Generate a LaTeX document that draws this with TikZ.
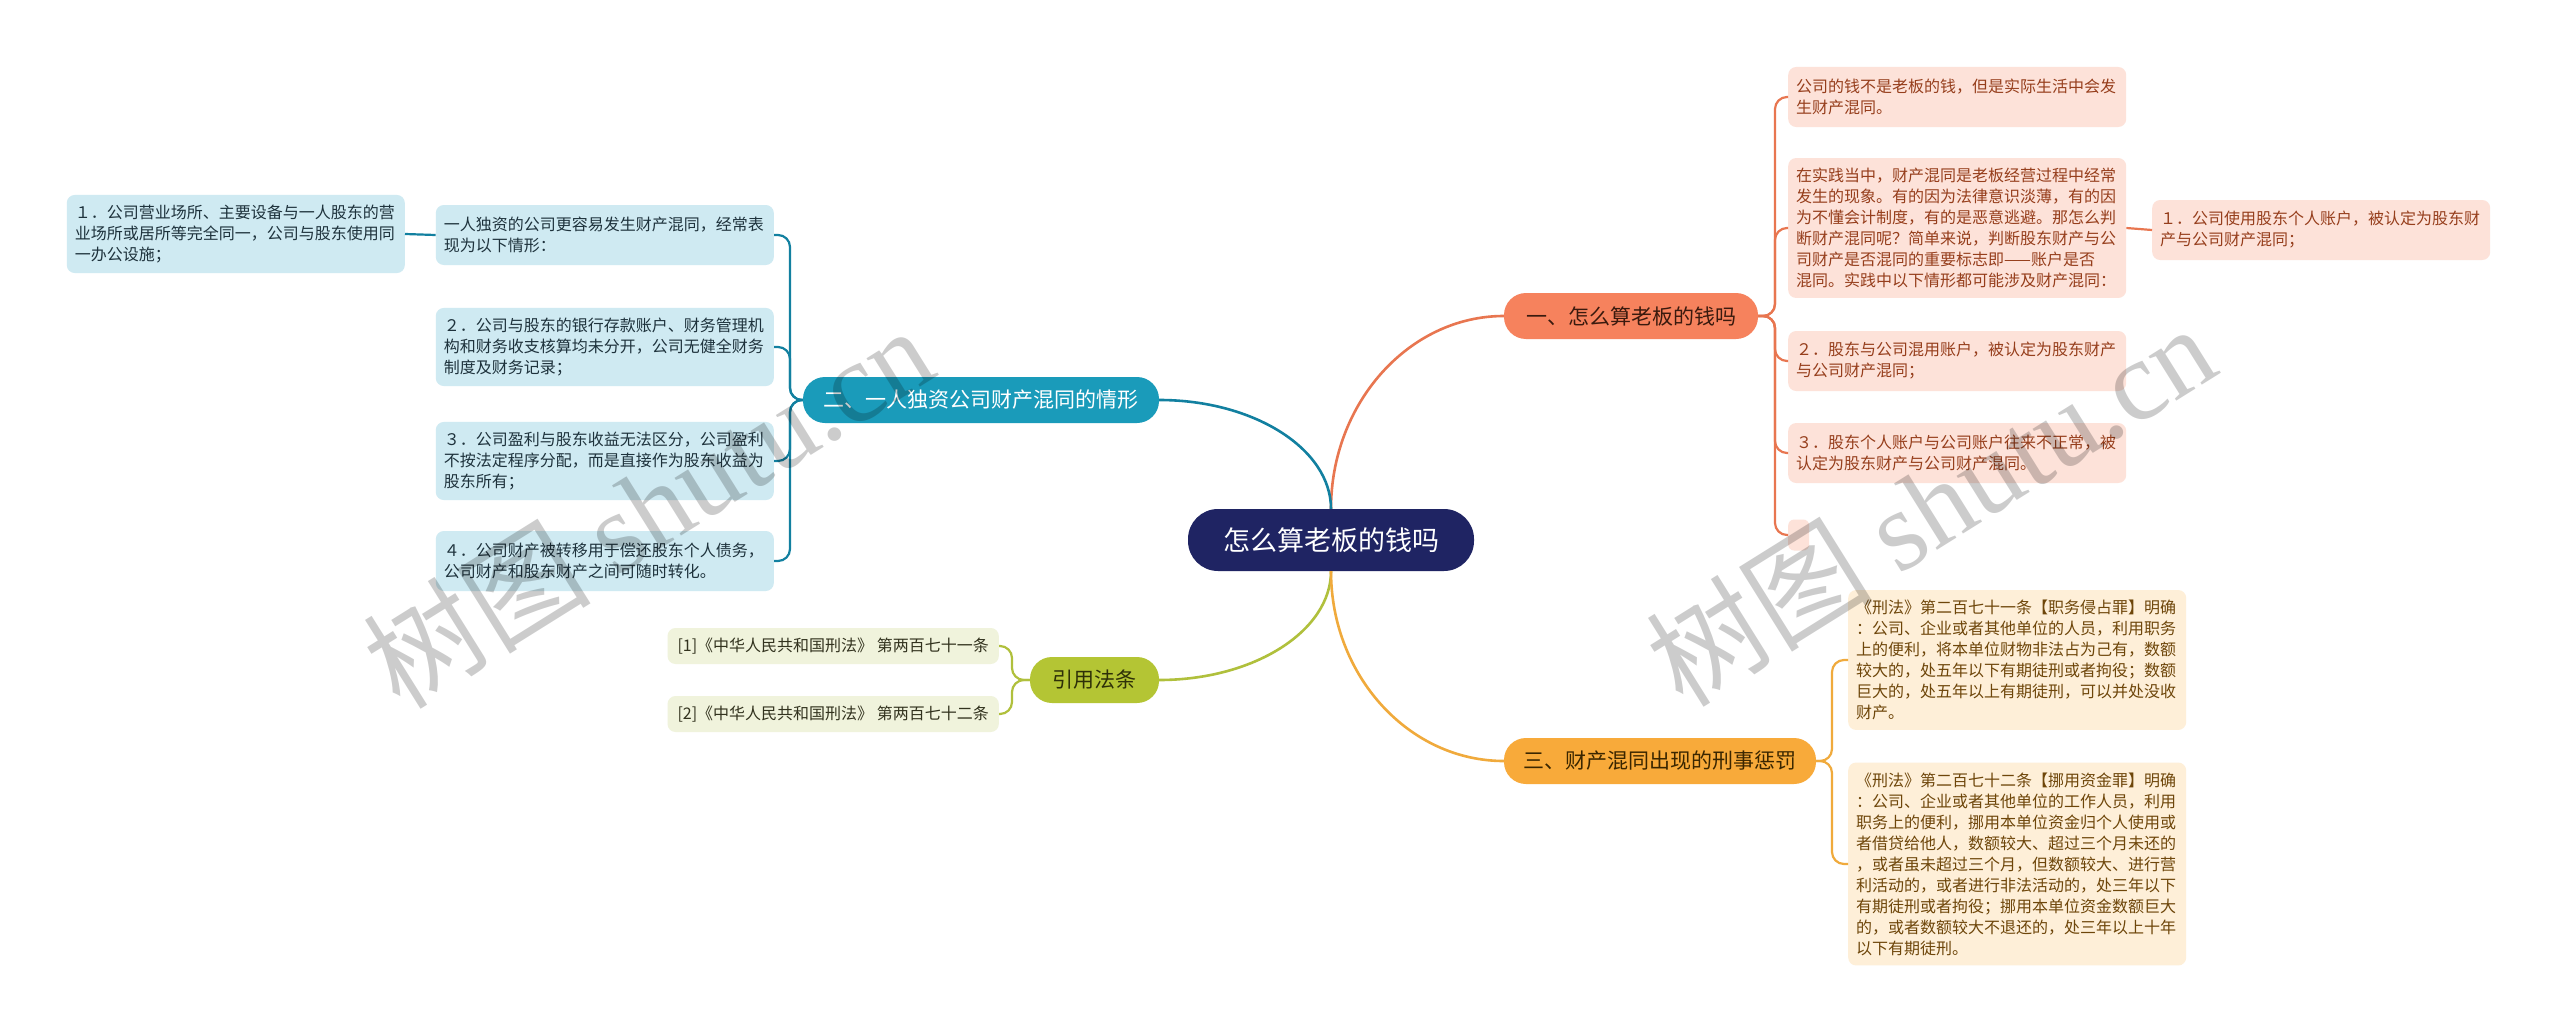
\documentclass[tikz,border=0pt]{standalone}
\usepackage{fontspec}
\setmainfont{Noto Sans CJK SC}
\newfontfamily\wmserif{Liberation Serif}
\newfontfamily\wmcjk{Noto Sans CJK SC}
\definecolor{rootfill}{RGB}{31,36,99}
\definecolor{bAfill}{RGB}{246,130,93}
\definecolor{bAtext}{RGB}{58,26,14}
\definecolor{bBfill}{RGB}{26,155,186}
\definecolor{bCfill}{RGB}{248,170,58}
\definecolor{bCtext}{RGB}{58,38,0}
\definecolor{bDfill}{RGB}{180,197,52}
\definecolor{bDtext}{RGB}{46,48,8}
\definecolor{pinkfill}{RGB}{253,226,217}
\definecolor{pinktext}{RGB}{150,62,28}
\definecolor{bluefill}{RGB}{207,234,242}
\definecolor{bluetext}{RGB}{30,50,60}
\definecolor{yelfill}{RGB}{254,239,216}
\definecolor{yeltext}{RGB}{110,70,10}
\definecolor{grnfill}{RGB}{240,243,220}
\definecolor{grntext}{RGB}{50,50,30}
\definecolor{orline}{RGB}{232,118,80}
\definecolor{tlline}{RGB}{18,128,160}
\definecolor{ylline}{RGB}{240,170,60}
\definecolor{gnline}{RGB}{176,192,60}
\tikzset{
  kid/.style={rounded corners=8pt, inner xsep=8pt, inner ysep=10pt, align=left,
    text width=322pt, minimum height=60pt, font=\fontsize{16}{21}\selectfont},
  pinkkid/.style={kid, fill=pinkfill, text=pinktext},
  bluekid/.style={kid, fill=bluefill, text=bluetext},
  yelkid/.style={kid, fill=yelfill, text=yeltext},
  grnkid/.style={rounded corners=8pt, inner xsep=10pt, inner ysep=6pt, minimum height=36pt,
    fill=grnfill, text=grntext, font=\fontsize{16}{21}\selectfont},
  branch/.style={rounded corners=22pt, minimum height=46pt, inner xsep=0pt,
    font=\fontsize{21}{25}\selectfont},
  rootst/.style={rounded corners=30pt, minimum height=62pt, minimum width=286pt,
    fill=rootfill, text=white, font=\fontsize{27}{32}\selectfont},
  mainline/.style={line width=2.6pt},
  kidline/.style={line width=2.2pt, rounded corners=12pt},
  wm/.style={text=black, text opacity=0.2, font=\fontsize{114}{120}\selectfont}
}
\begin{document}
\begin{tikzpicture}[x=1pt,y=-1pt]
\useasboundingbox (0,0) rectangle (2560,1033);
\fill[white] (0,0) rectangle (2560,1033);

% root and branches
\node[rootst] (root) at (1331,540) {怎么算老板的钱吗};
\node[branch, fill=bAfill, text=bAtext, minimum width=254pt] (bA) at (1631,316) {一、怎么算老板的钱吗};
\node[branch, fill=bBfill, text=white, minimum width=356pt] (bB) at (981,400) {二、一人独资公司财产混同的情形};
\node[branch, fill=bCfill, text=bCtext, minimum width=312pt] (bC) at (1660,761) {三、财产混同出现的刑事惩罚};
\node[branch, fill=bDfill, text=bDtext, minimum width=129pt] (bD) at (1094.5,680) {引用法条};

% branch A children
\node[pinkkid, anchor=west] (a1) at (1788,97) {公司的钱不是老板的钱，但是实际生活中会发\\生财产混同。};
\node[pinkkid, anchor=west] (a2) at (1788,228) {在实践当中，财产混同是老板经营过程中经常\\发生的现象。有的因为法律意识淡薄，有的因\\为不懂会计制度，有的是恶意逃避。那怎么判\\断财产混同呢？简单来说，判断股东财产与公\\司财产是否混同的重要标志即——账户是否\\混同。实践中以下情形都可能涉及财产混同：};
\node[pinkkid, anchor=west] (a21) at (2152,230) {１．公司使用股东个人账户，被认定为股东财\\产与公司财产混同；};
\node[pinkkid, anchor=west] (a3) at (1788,361) {２．股东与公司混用账户，被认定为股东财产\\与公司财产混同；};
\node[pinkkid, anchor=west] (a4) at (1788,453) {３．股东个人账户与公司账户往来不正常，被\\认定为股东财产与公司财产混同。};
\node[fill=pinkfill, rounded corners=6pt, minimum width=21pt, minimum height=31pt, inner sep=0pt, anchor=west] (a5) at (1788,535) {};

% branch B children
\node[bluekid, anchor=east] (l1) at (774,235) {一人独资的公司更容易发生财产混同，经常表\\现为以下情形：};
\node[bluekid, anchor=east] (l11) at (405,234) {１．公司营业场所、主要设备与一人股东的营\\业场所或居所等完全同一，公司与股东使用同\\一办公设施；};
\node[bluekid, anchor=east] (l2) at (774,347) {２．公司与股东的银行存款账户、财务管理机\\构和财务收支核算均未分开，公司无健全财务\\制度及财务记录；};
\node[bluekid, anchor=east] (l3) at (774,461) {３．公司盈利与股东收益无法区分，公司盈利\\不按法定程序分配，而是直接作为股东收益为\\股东所有；};
\node[bluekid, anchor=east] (l4) at (774,561) {４．公司财产被转移用于偿还股东个人债务，\\公司财产和股东财产之间可随时转化。};

% branch D children
\node[grnkid, anchor=east] (r1) at (999,646) {[1]《中华人民共和国刑法》 第两百七十一条};
\node[grnkid, anchor=east] (r2) at (999,714) {[2]《中华人民共和国刑法》 第两百七十二条};

% branch C children
\node[yelkid, anchor=west] (y1) at (1848,660) {《刑法》第二百七十一条【职务侵占罪】明确\\：公司、企业或者其他单位的人员，利用职务\\上的便利，将本单位财物非法占为己有，数额\\较大的，处五年以下有期徒刑或者拘役；数额\\巨大的，处五年以上有期徒刑，可以并处没收\\财产。};
\node[yelkid, anchor=west] (y2) at (1848,864) {《刑法》第二百七十二条【挪用资金罪】明确\\：公司、企业或者其他单位的工作人员，利用\\职务上的便利，挪用本单位资金归个人使用或\\者借贷给他人，数额较大、超过三个月未还的\\，或者虽未超过三个月，但数额较大、进行营\\利活动的，或者进行非法活动的，处三年以下\\有期徒刑或者拘役；挪用本单位资金数额巨大\\的，或者数额较大不退还的，处三年以上十年\\以下有期徒刑。};

% spines
\coordinate (sA) at (1775,0);
\coordinate (sB) at (790,0);
\coordinate (sC) at (1832,0);
\coordinate (sD) at (1012,0);

% main connectors
\draw[mainline, orline] (root.north) .. controls (1331,403) and (1409,316) .. (bA.west);
\draw[mainline, tlline] (root.north) .. controls (1331,449) and (1254,400) .. (bB.east);
\draw[mainline, gnline] (root.south) .. controls (1331,631) and (1254,680) .. (bD.east);
\draw[mainline, ylline] (root.south) .. controls (1331,676) and (1409,761) .. (bC.west);

% child connectors
\foreach \k in {a1,a2,a3,a4,a5}
  \draw[kidline, orline] (bA.east) -- (bA.east -| sA) |- (\k.west);
\foreach \k in {l1,l2,l3,l4}
  \draw[kidline, tlline] (bB.west) -- (bB.west -| sB) |- (\k.east);
\foreach \k in {r1,r2}
  \draw[kidline, gnline] (bD.west) -- (bD.west -| sD) |- (\k.east);
\foreach \k in {y1,y2}
  \draw[kidline, ylline] (bC.east) -- (bC.east -| sC) |- (\k.west);
\draw[kidline, orline] (a2.east) -- (a21.west);
\draw[kidline, tlline] (l1.west) -- (l11.east);

% watermarks
\node[wm, rotate=32] (wm1) at (648,506) {\wmcjk 树图 \wmserif shutu.cn};
\node[wm, rotate=32] (wm2) at (1930,504) {\wmcjk 树图 \wmserif shutu.cn};
\end{tikzpicture}
\end{document}
